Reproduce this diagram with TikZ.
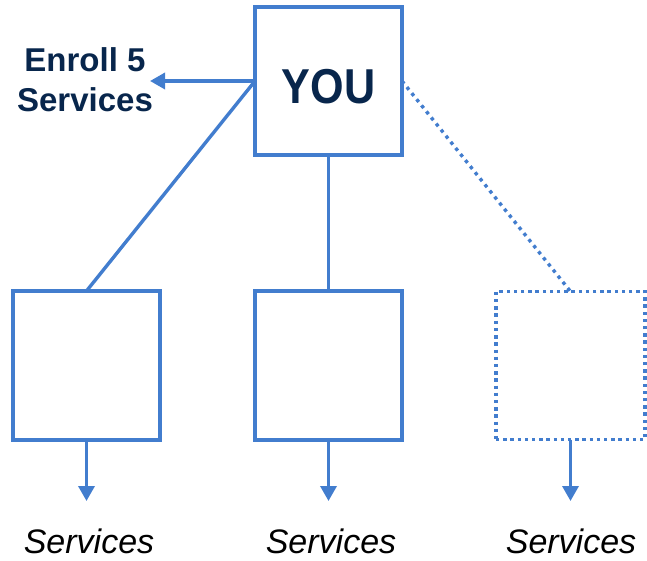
\documentclass[tikz,border=0pt]{standalone}
\usepackage{fontspec}
\setmainfont{Liberation Sans}
\usetikzlibrary{arrows.meta}
\definecolor{boxblue}{RGB}{66,125,206}
\definecolor{navy}{RGB}{8,38,76}
\begin{document}
\begin{tikzpicture}[x=1pt,y=-1pt,
  bx/.style={draw=boxblue,line width=3.8pt,minimum width=147pt,minimum height=148pt,inner sep=0pt,outer sep=0pt},
  dotbox/.style={bx,line width=3.4pt,dash pattern=on 3.4pt off 3.8pt},
  conn/.style={draw=boxblue,line width=3.4pt},
  dotconn/.style={conn,dash pattern=on 3.4pt off 4.4pt},
  arr/.style={conn,-{Triangle[length=15pt,width=16pt]}},
  svc/.style={text=black,font=\fontsize{34}{40}\selectfont\itshape,anchor=base,inner sep=0pt},
  enr/.style={text=navy,font=\fontsize{33}{40}\selectfont\bfseries,align=center,inner sep=0pt}]
\useasboundingbox (0,0) rectangle (647,561);
\node[bx,text=navy,font=\fontsize{49}{52}\selectfont\bfseries,text height=46pt,text depth=0pt] (you) at (328.5,81) {\scalebox{0.88}[1]{YOU}};
\node[bx,minimum height=149pt] (lb) at (86.5,365.5) {};
\node[bx,minimum height=149pt] (mb) at (328.5,365.5) {};
\node[dotbox,minimum height=148pt,minimum width=149pt] (rb) at (570.5,365.5) {};
\node[enr] (enroll) at (85,80) {Enroll 5\\Services};
\coordinate (etip) at (150,81);
\node[svc] (s1) at (89,553) {Services};
\node[svc] (s2) at (331,553) {Services};
\node[svc] (s3) at (571,553) {Services};
\coordinate (t1) at (86.5,501);
\coordinate (t2) at (328.5,501);
\coordinate (t3) at (570.5,501);
\draw[conn] (you.west) -- (lb.north);
\draw[conn] (you.south) -- (mb.north);
\draw[dotconn] (you.east) -- (rb.north);
\draw[arr] (you.west) -- (etip);
\draw[arr] (lb.south) -- (t1);
\draw[arr] (mb.south) -- (t2);
\draw[arr] (rb.south) -- (t3);
\end{tikzpicture}
\end{document}
